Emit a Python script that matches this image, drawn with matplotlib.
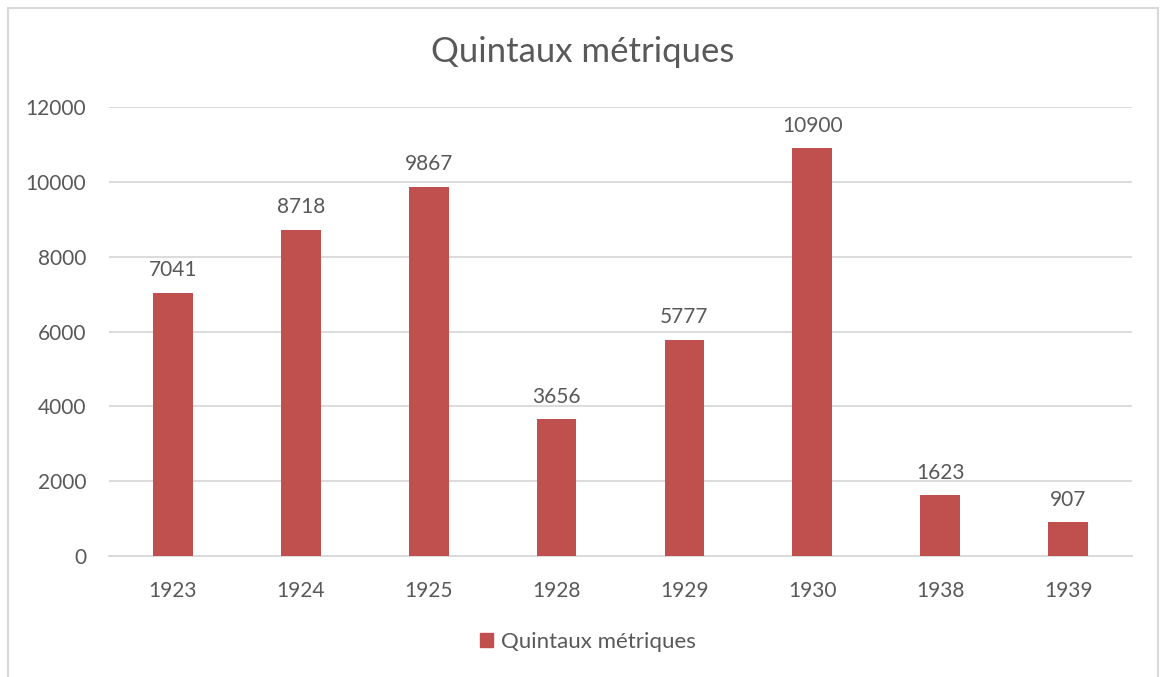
import matplotlib
matplotlib.use("Agg")
from matplotlib import pyplot as plt
from matplotlib.patches import Rectangle, Patch
import numpy as np

years = ["1923", "1924", "1925", "1928", "1929", "1930", "1938", "1939"]
quintaux = [7041, 8718, 9867, 3656, 5777, 10900, 1623, 907]
yticks = [0, 2000, 4000, 6000, 8000, 10000, 12000]

bar_color = "#C0504D"
text_color = "#595959"
grid_color = "#D9D9D9"

plt.rcParams["font.family"] = ["Lato", "DejaVu Sans"]

fig = plt.figure(figsize=(11.6, 6.77), dpi=100)
ax = fig.add_axes([109 / 1160, 1 - 556 / 677, (1132 - 109) / 1160, (556 - 107) / 677])

# chart border (light grey frame like the office export)
fig.patches.append(Rectangle((8 / 1160, -0.1), (1158 - 8) / 1160, 1.1 - 8 / 677,
                             transform=fig.transFigure, fill=False,
                             edgecolor="#D9D9D9", linewidth=1.5))

x = np.arange(len(years))
bars = ax.bar(x, quintaux, width=0.31, color=bar_color, zorder=3)

# value labels
for xi, v in zip(x, quintaux):
    ax.annotate(str(v), (xi, v), xytext=(0, 9), textcoords="offset points",
                ha="center", va="bottom", fontsize=15, color=text_color)

ax.set_xlim(-0.5, len(years) - 0.5)
ax.set_ylim(0, 12000)
ax.set_yticks(yticks)
ax.set_xticks(x)
ax.set_xticklabels(years)
ax.tick_params(axis="both", length=0, labelsize=15, labelcolor=text_color)
ax.tick_params(axis="x", pad=18)
ax.tick_params(axis="y", pad=16.5)
ax.grid(axis="y", color=grid_color, linewidth=1.3, zorder=0)
for side in ["left", "right", "top"]:
    ax.spines[side].set_visible(False)
ax.spines["bottom"].set_color(grid_color)
ax.spines["bottom"].set_linewidth(1.3)

fig.text(583 / 1160, 1 - 52 / 677, "Quintaux métriques", ha="center", va="center",
         fontsize=25, color=text_color)

fig.legend(handles=[Patch(color=bar_color, label="Quintaux métriques")],
           loc="center", bbox_to_anchor=(588 / 1160, 1 - 642 / 677),
           frameon=False, fontsize=16, labelcolor=text_color,
           handlelength=0.6, handleheight=0.6, handletextpad=0.35)

fig.savefig("out.png", dpi=100)
